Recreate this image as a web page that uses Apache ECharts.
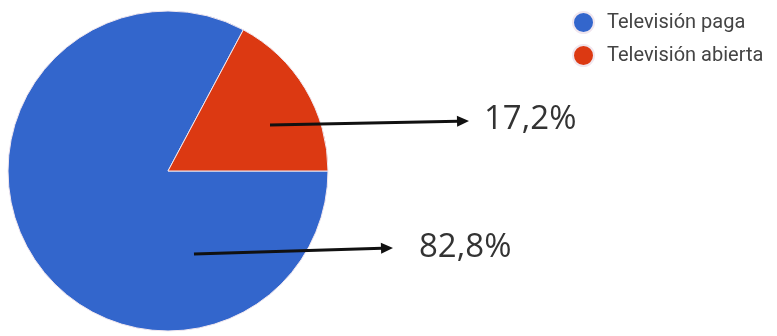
<!DOCTYPE html>
<html>
<head>
<meta charset="utf-8">
<script src="https://cdn.jsdelivr.net/npm/echarts@6/dist/echarts.min.js"></script>
<style>html,body{margin:0;padding:0;background:#fff}#c{width:777px;height:336px}</style>
</head>
<body>
<div id="c"></div>
<script>
const categories = ["Televisión paga", "Televisión abierta"];
const values = [82.8, 17.2];
const colors = ["#3366cc", "#dc3912"];

const fmt = v => v.toFixed(1).replace('.', ',') + '%';

function arrow(x1, y1, x2, y2) {
  const ang = Math.atan2(y2 - y1, x2 - x1);
  const L = 12, W = 5.5;
  const bx = x2 - L * Math.cos(ang), by = y2 - L * Math.sin(ang);
  const px = -Math.sin(ang) * W, py = Math.cos(ang) * W;
  return [
    { type: 'line', z: 100, shape: { x1: x1, y1: y1, x2: bx + 1, y2: by }, style: { stroke: '#111', lineWidth: 3 } },
    { type: 'polygon', z: 100, shape: { points: [[x2, y2], [bx + px, by + py], [bx - px, by - py]] }, style: { fill: '#111' } }
  ];
}

const chart = echarts.init(document.getElementById('c'), null, { renderer: 'canvas' });
chart.setOption({
  animation: false,
  legend: {
    orient: 'vertical', left: 567, top: 6,
    icon: 'circle', itemWidth: 21, itemHeight: 21, itemGap: 10,
    textStyle: { fontFamily: 'Roboto', fontSize: 20, color: '#444', padding: [0, 0, 0, 8] },
    data: categories
  },
  series: [{
    type: 'pie',
    center: [168, 171], radius: 160,
    startAngle: 0, clockwise: true,
    label: { show: false }, labelLine: { show: false },
    itemStyle: { borderColor: '#f0e6ee', borderWidth: 1 },
    data: categories.map((n, i) => ({ name: n, value: values[i], itemStyle: { color: colors[i] } }))
  }],
  graphic: [
    ...arrow(270, 125, 469, 121),
    ...arrow(194, 254, 393, 248),
    { type: 'text', z: 100, x: 484, y: 120, style: { text: fmt(values[1]), font: '33px "Open Sans"', fill: '#333', verticalAlign: 'middle' } },
    { type: 'text', z: 100, x: 419, y: 248, style: { text: fmt(values[0]), font: '33px "Open Sans"', fill: '#333', verticalAlign: 'middle' } }
  ]
});
</script>
</body>
</html>
